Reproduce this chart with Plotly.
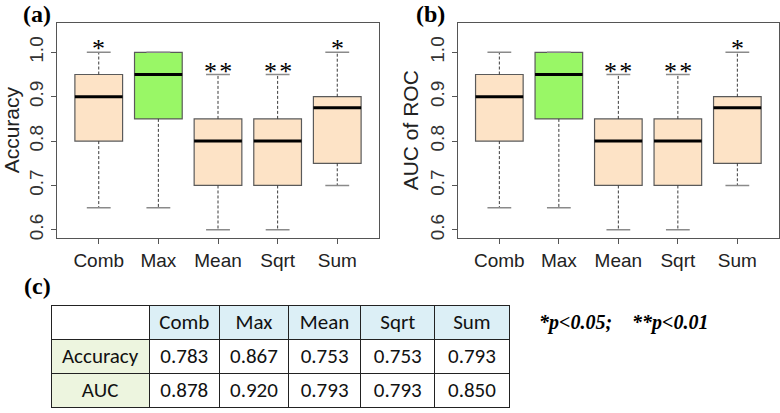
import plotly.graph_objects as go

# ---------------- data ----------------
categories = ["Comb", "Max", "Mean", "Sqrt", "Sum"]

acc_lower = [0.65, 0.65, 0.60, 0.60, 0.70]
acc_q1 = [0.80, 0.85, 0.70, 0.70, 0.75]
acc_median = [0.90, 0.95, 0.80, 0.80, 0.875]
acc_q3 = [0.95, 1.00, 0.85, 0.85, 0.90]
acc_upper = [1.00, 1.00, 0.95, 0.95, 1.00]
acc_sig = ["*", "", "**", "**", "*"]

auc_lower = [0.65, 0.65, 0.60, 0.60, 0.70]
auc_q1 = [0.80, 0.85, 0.70, 0.70, 0.75]
auc_median = [0.90, 0.95, 0.80, 0.80, 0.875]
auc_q3 = [0.95, 1.00, 0.85, 0.85, 0.90]
auc_upper = [1.00, 1.00, 0.95, 0.95, 1.00]
auc_sig = ["", "", "**", "**", "*"]

highlight = "Max"

y_ticks = [0.6, 0.7, 0.8, 0.9, 1.0]
y_ticktext = ["0.6", "0.7", "0.8", "0.9", "1.0"]

table_header = ["", "Comb", "Max", "Mean", "Sqrt", "Sum"]
table_rows = ["Accuracy", "AUC"]
table_acc = ["0.783", "0.867", "0.753", "0.753", "0.793"]
table_auc = ["0.878", "0.920", "0.793", "0.793", "0.850"]

# ---------------- styles ----------------
W, H = 780, 413
BISQUE = "#FDE3C6"
GREEN = "#99F766"
BOX_LINE = "#5a5a5a"
WHISK = "#3a3a3a"
CAP = "#8a8a8a"
AXIS = "#555555"
TXT = "#222222"
SANS = "Liberation Sans, Arial, sans-serif"
SERIF = "Liberation Serif, Times New Roman, serif"
NARROW = "Carlito, Liberation Sans Narrow, Arial Narrow, Liberation Sans, sans-serif"


def px(x):
    return x / W


def py(y):
    return 1 - y / H


fig = go.Figure()

positions = list(range(1, len(categories) + 1))
BOX_W = 0.8
CAP_HALF = 0.2


def add_panel(xa, ya, lower, q1, med, q3, upper, sig):
    xref = "x" if xa == "x" else "x2"
    yref = "y" if ya == "y" else "y2"
    # whiskers (dashed)
    wx, wy = [], []
    for p, lo, a, b, hi in zip(positions, lower, q1, q3, upper):
        wx += [p, p, None, p, p, None]
        wy += [b, hi, None, a, lo, None]
    fig.add_trace(go.Scatter(x=wx, y=wy, mode="lines", xaxis=xref, yaxis=yref,
                             line=dict(color=WHISK, width=1, dash="3px,2px"),
                             hoverinfo="skip", showlegend=False))
    # caps
    cx, cy = [], []
    for p, lo, hi in zip(positions, lower, upper):
        cx += [p - CAP_HALF, p + CAP_HALF, None, p - CAP_HALF, p + CAP_HALF, None]
        cy += [hi, hi, None, lo, lo, None]
    fig.add_trace(go.Scatter(x=cx, y=cy, mode="lines", xaxis=xref, yaxis=yref,
                             line=dict(color=CAP, width=1.5),
                             hoverinfo="skip", showlegend=False))
    # boxes
    for p, c, a, m, b in zip(positions, categories, q1, med, q3):
        fill = GREEN if c == highlight else BISQUE
        fig.add_trace(go.Box(x=[p], q1=[a], median=[m], q3=[b],
                             lowerfence=[a], upperfence=[b],
                             width=BOX_W, whiskerwidth=0,
                             fillcolor=fill, line=dict(color=BOX_LINE, width=1.2),
                             xaxis=xref, yaxis=yref, showlegend=False,
                             hoverinfo="skip"))
    # medians
    mx, my = [], []
    for p, m in zip(positions, med):
        mx += [p - BOX_W / 2, p + BOX_W / 2, None]
        my += [m, m, None]
    fig.add_trace(go.Scatter(x=mx, y=my, mode="lines", xaxis=xref, yaxis=yref,
                             line=dict(color="black", width=3),
                             hoverinfo="skip", showlegend=False))
    # significance marks
    for p, hi, s in zip(positions, upper, sig):
        if s:
            fig.add_annotation(x=p, y=hi, xref=xref, yref=yref,
                               text="&#8202;".join(s),
                               showarrow=False, xanchor="center", yanchor="bottom",
                               yshift=-13,
                               font=dict(family=SERIF, size=26, color="black"))


add_panel("x", "y", acc_lower, acc_q1, acc_median, acc_q3, acc_upper, acc_sig)
add_panel("x2", "y2", auc_lower, auc_q1, auc_median, auc_q3, auc_upper, auc_sig)

# table
fig.add_trace(go.Table(
    domain=dict(x=[px(51), px(509)], y=[0.0, py(307)]),
    columnwidth=[98, 70, 69, 72, 74, 74],
    header=dict(values=table_header,
                fill=dict(color=["white"] + ["#DCEFF6"] * 5),
                line=dict(color="#222222", width=1),
                align="center", height=34,
                font=dict(family=NARROW, size=21, color="#111111")),
    cells=dict(values=[table_rows] + [[a, b] for a, b in zip(table_acc, table_auc)],
               fill=dict(color=[["#EDF5DF", "#EDF5DF"]] + [["white", "white"]] * 5),
               line=dict(color="#222222", width=1),
               align="center", height=34,
               font=dict(family=NARROW, size=21, color="#111111")),
))

axis_common = dict(showline=True, mirror=True, linecolor=AXIS, linewidth=1,
                   showgrid=False, zeroline=False, ticks="outside", ticklen=5,
                   tickcolor=AXIS)

fig.update_layout(
    width=W, height=H, margin=dict(l=0, r=0, t=0, b=0),
    paper_bgcolor="white", plot_bgcolor="white", showlegend=False,
    xaxis=dict(domain=[px(57), px(379)], range=[0.3, 5.7], tickvals=positions,
               ticktext=categories, tickfont=dict(family=SANS, size=19, color=TXT),
               anchor="y", **axis_common),
    yaxis=dict(domain=[py(239), py(22.7)], range=[0.582, 1.067], tickvals=y_ticks,
               ticktext=y_ticktext, tickangle=-90,
               tickfont=dict(family=SANS, size=19, color="#333333"),
               anchor="x", **axis_common),
    xaxis2=dict(domain=[px(457.7), px(779)], range=[0.3, 5.7], tickvals=positions,
                ticktext=categories, tickfont=dict(family=SANS, size=19, color=TXT),
                anchor="y2", **axis_common),
    yaxis2=dict(domain=[py(239), py(22.7)], range=[0.582, 1.067], tickvals=y_ticks,
                ticktext=y_ticktext, tickangle=-90,
                tickfont=dict(family=SANS, size=19, color="#333333"),
                anchor="x2", **axis_common),
)

# axis titles as rotated annotations
fig.add_annotation(x=px(11), y=py(131), xref="paper", yref="paper", text="Accuracy",
                   textangle=-90, showarrow=False, xanchor="center", yanchor="middle",
                   font=dict(family=SANS, size=21, color=TXT))
fig.add_annotation(x=px(410), y=py(131), xref="paper", yref="paper", text="AUC of ROC",
                   textangle=-90, showarrow=False, xanchor="center", yanchor="middle",
                   font=dict(family=SANS, size=21, color=TXT))

# panel labels
for lab, x, y in [("(a)", 37, 14), ("(b)", 430, 14), ("(c)", 37, 287)]:
    fig.add_annotation(x=px(x), y=py(y), xref="paper", yref="paper", text=f"<b>{lab}</b>",
                       showarrow=False, xanchor="center", yanchor="middle",
                       font=dict(family=SERIF, size=24, color="black"))

# significance note
fig.add_annotation(x=px(537), y=py(324), xref="paper", yref="paper", xanchor="left",
                   yanchor="middle",
                   text="<b><i>*p&lt;0.05;&nbsp;&nbsp;&nbsp; **p&lt;0.01</i></b>",
                   showarrow=False, font=dict(family=SERIF, size=20, color="black"))

fig.write_html("out.html", config={"displayModeBar": False},
               post_script="document.body.style.margin='0';")
